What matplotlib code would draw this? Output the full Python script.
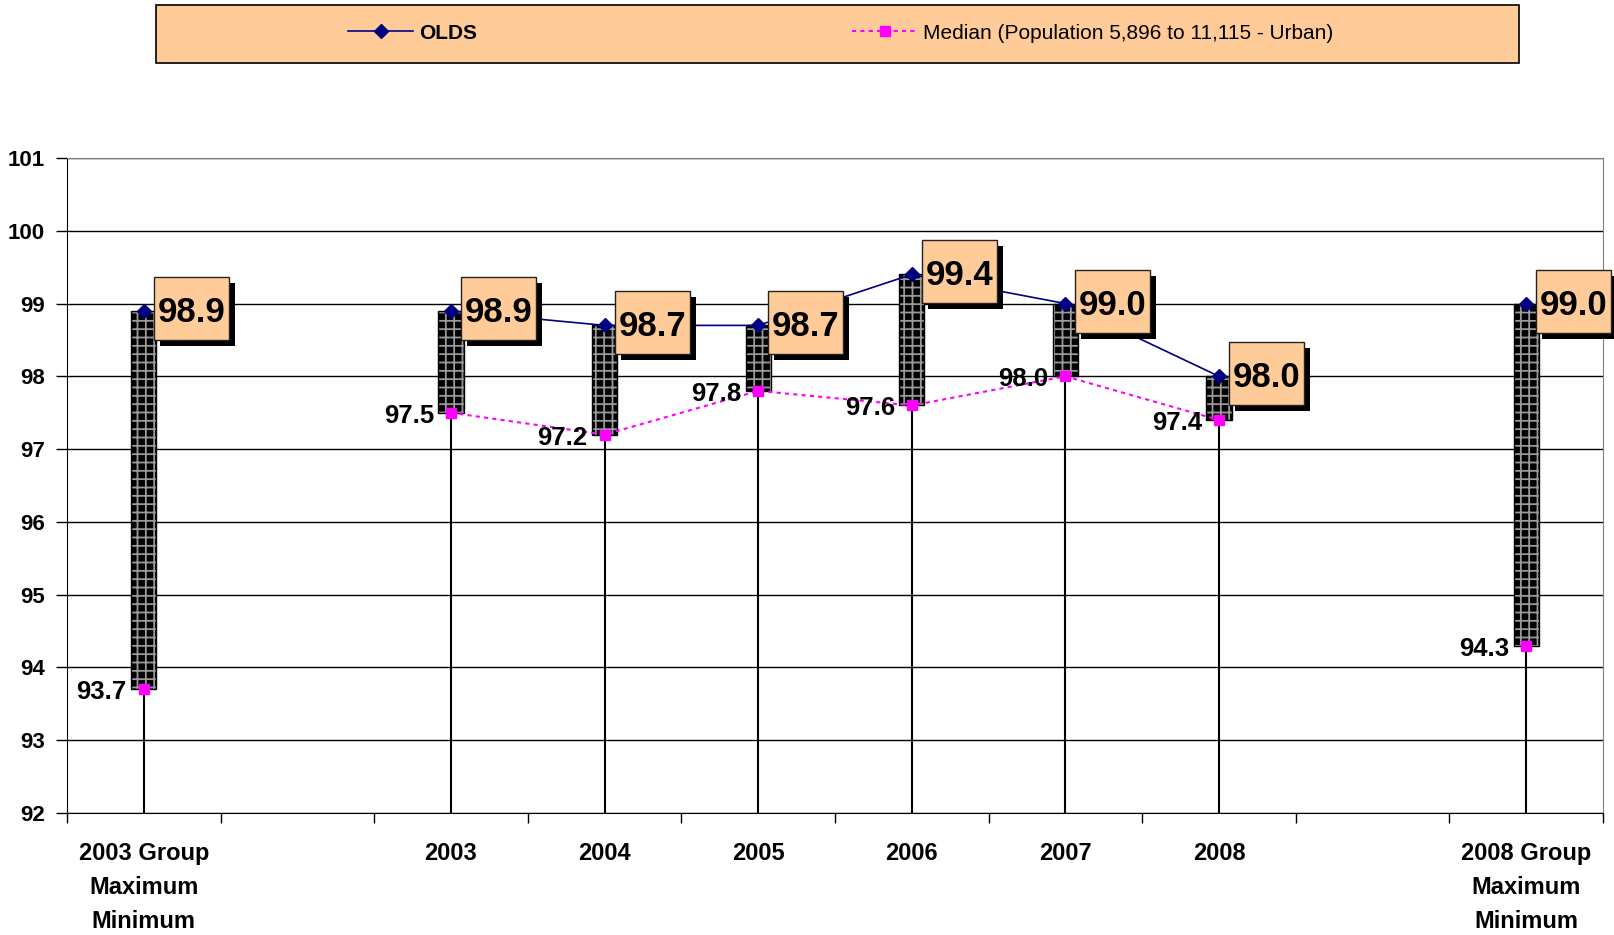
import matplotlib
matplotlib.use("Agg")
import matplotlib.pyplot as plt
import matplotlib.transforms as mtransforms
from matplotlib.patches import Rectangle
from matplotlib.lines import Line2D
import numpy as np

plt.rcParams['font.family'] = ['Liberation Sans', 'DejaVu Sans']
plt.rcParams['hatch.linewidth'] = 1.3

categories = ["2003 Group\nMaximum\nMinimum", "", "2003", "2004", "2005",
              "2006", "2007", "2008", "", "2008 Group\nMaximum\nMinimum"]
olds = [98.9, np.nan, 98.9, 98.7, 98.7, 99.4, 99.0, 98.0, np.nan, 99.0]
median = [93.7, np.nan, 97.5, 97.2, 97.8, 97.6, 98.0, 97.4, np.nan, 94.3]
yticks = [92, 93, 94, 95, 96, 97, 98, 99, 100, 101]

orange = '#FFCC99'
navy = '#000080'
magenta = '#FF00FF'

x = np.arange(len(categories))
olds_a = np.array(olds)
med_a = np.array(median)
ok = ~np.isnan(olds_a)

fig = plt.figure(figsize=(16.14, 9.35), dpi=100)
ax = fig.add_axes([0.0415, 0.1305, 0.9517, 0.7005])
ax.set_xlim(-0.5, len(categories) - 0.5)
ax.set_ylim(92, 101)

# grid + axes look
ax.set_yticks(yticks)
ax.yaxis.grid(True, color='black', lw=1)
ax.set_axisbelow(True)
for s in ['top', 'right']:
    ax.spines[s].set_color('#808080')
for s in ['left', 'bottom']:
    ax.spines[s].set_color('black')
ax.set_yticklabels([str(t) for t in yticks], fontsize=16, fontweight='bold')
ax.tick_params(axis='y', length=8, width=1, pad=8)

ax.set_xticks(x)
ax.set_xticklabels(categories, fontsize=17, fontweight='bold', linespacing=1.6)
ax.set_xticks(np.arange(-0.5, len(categories), 1), minor=True)
ax.tick_params(axis='x', which='major', length=0, pad=21)
ax.tick_params(axis='x', which='minor', length=7, width=1)

# drop lines from the axis to the median
ax.vlines(x[ok], 92, med_a[ok], color='black', lw=1.5, zorder=2)

# hatched bars between median and OLDS
ax.bar(x[ok], olds_a[ok] - med_a[ok], bottom=med_a[ok], width=0.163,
       color='black', edgecolor='#9a9a9a', hatch='++', lw=0, zorder=3)
ax.bar(x[ok], olds_a[ok] - med_a[ok], bottom=med_a[ok], width=0.163,
       fill=False, edgecolor='black', lw=1, zorder=3)

ax.plot(x, med_a, color=magenta, lw=1.5, ls=(0, (2, 2)), zorder=4)
ax.plot(x, med_a, color=magenta, ls='none', marker='s', ms=6.5, zorder=4.5)
ax.plot(x, olds_a, color=navy, lw=1.2, marker='D', ms=7, zorder=4.6)

# value labels
for i in x[ok]:
    v = olds_a[i]
    tr = fig.dpi_scale_trans + mtransforms.ScaledTranslation(x[i], v, ax.transData)
    ax.add_patch(Rectangle((0.16, -0.35), 0.75, 0.63, transform=tr, fc='black',
                           ec='none', clip_on=False, zorder=6))
    ax.add_patch(Rectangle((0.10, -0.29), 0.75, 0.63, transform=tr, fc=orange,
                           ec='#222222', lw=1, clip_on=False, zorder=7))
    ax.text(0.475, -0.11, f"{v:.1f}", transform=tr, ha='center', va='baseline',
            fontsize=25, fontweight='bold', zorder=8, clip_on=False)

    m = med_a[i]
    tr2 = fig.dpi_scale_trans + mtransforms.ScaledTranslation(x[i], m, ax.transData)
    ax.text(-0.17, -0.10, f"{m:.1f}", transform=tr2, ha='right', va='baseline',
            fontsize=18.5, fontweight='bold', zorder=8)

# legend box at the top
fig.patches.append(Rectangle((0.0967, 0.9326), 0.8445, 0.062, transform=fig.transFigure,
                             fc=orange, ec='black', lw=1.2, zorder=0))
handles = [Line2D([], [], color=navy, lw=1.2, marker='D', ms=7),
           Line2D([], [], color=magenta, lw=1.5, ls=(0, (2, 2)), marker='s', ms=6.5)]
leg = fig.legend(handles, ["OLDS", "Median (Population 5,896 to 11,115 - Urban)"],
                 loc='center', bbox_to_anchor=(0.521, 0.9647), ncol=2, frameon=False,
                 columnspacing=18, handlelength=3.1, handletextpad=0.3, fontsize=15)
leg.get_texts()[0].set_fontweight('bold')

fig.savefig("out.png", dpi=100)
